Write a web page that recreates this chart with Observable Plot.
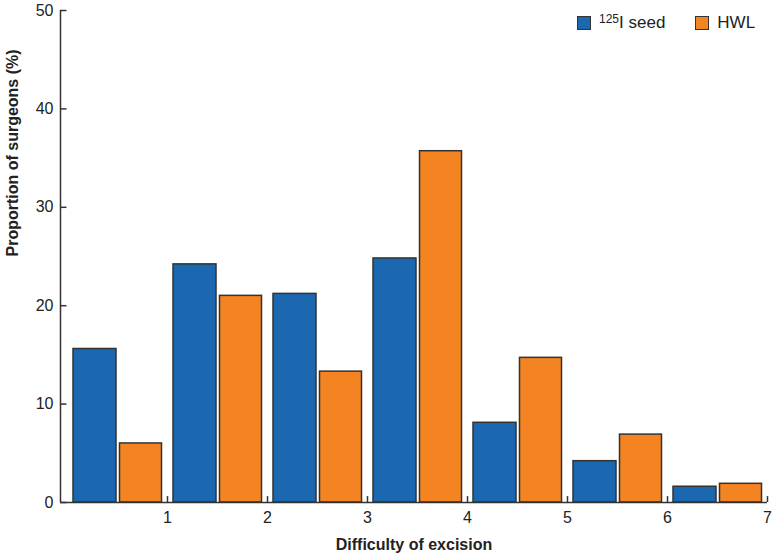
<!DOCTYPE html>
<html>
<head>
<meta charset="utf-8">
<script src="https://cdn.jsdelivr.net/npm/d3@7"></script>
<script src="https://cdn.jsdelivr.net/npm/@observablehq/plot@0.6"></script>
<style>
  html, body { margin: 0; padding: 0; background: #fff; }
  #wrap { position: relative; width: 775px; height: 555px; font-family: "Liberation Sans", Arial, sans-serif; }
  #legend { position: absolute; top: 13px; left: 577px; font-size: 17px; color: #222; display: flex; align-items: center; }
  .sw { display: inline-block; width: 12px; height: 12px; border: 1px solid #333; margin-right: 8px; }
  sup { font-size: 12px; vertical-align: 5px; line-height: 0; }
</style>
</head>
<body>
<div id="wrap">
  <div id="legend">
    <span class="sw" style="background:#1b67b0"></span><span><sup>125</sup>I seed</span>
    <span class="sw" style="background:#f38421; margin-left:30px"></span><span>HWL</span>
  </div>
</div>
<script>
const categories = [1, 2, 3, 4, 5, 6, 7];
const seedValues = [15.6, 24.2, 21.2, 24.8, 8.1, 4.2, 1.6];
const hwlValues  = [6.0, 21.0, 13.3, 35.7, 14.7, 6.9, 1.9];
const xTicks = [1, 2, 3, 4, 5, 6, 7];
const yTicks = [0, 10, 20, 30, 40, 50];
const seriesNames = ["125I seed", "HWL"];
const colors = ["#1b67b0", "#f38421"];

const rows = [];
categories.forEach((c, i) => {
  rows.push({cat: c, series: seriesNames[0], value: seedValues[i], slot: 0});
  rows.push({cat: c, series: seriesNames[1], value: hwlValues[i], slot: 1});
});

const xMin = -0.07, xMax = 7.0;
const chart = Plot.plot({
  width: 775,
  height: 555,
  marginLeft: 60,
  marginRight: 8,
  marginTop: 10,
  marginBottom: 53,
  style: {fontFamily: "Liberation Sans, Arial, sans-serif", fontSize: "16px", color: "#222", background: "#fff"},
  x: {domain: [xMin, xMax], axis: null},
  y: {domain: [0, 50], axis: null},
  color: {domain: seriesNames, range: colors},
  marks: [
    Plot.rectY(rows, {
      x1: d => d.cat - 1 + (d.slot === 0 ? 0.06 : 0.525),
      x2: d => d.cat - 1 + (d.slot === 0 ? 0.49 : 0.945),
      y1: 0,
      y2: "value",
      fill: "series",
      stroke: "#333",
      strokeWidth: 1.5
    }),
    // axis lines
    Plot.ruleX([xMin], {y1: 0, y2: 50, stroke: "#333", strokeWidth: 1.5}),
    Plot.ruleY([0], {x1: xMin, x2: xMax, stroke: "#333", strokeWidth: 1.5}),
    // inward ticks
    Plot.ruleX(xTicks, {x: d => d, y1: 0, y2: 0.6, stroke: "#333", strokeWidth: 1.5}),
    Plot.ruleY(yTicks, {y: d => d, x1: xMin, x2: xMin + 0.065, stroke: "#333", strokeWidth: 1.5}),
    // tick labels
    Plot.axisX({ticks: xTicks, tickSize: 0, tickPadding: 9, tickFormat: d => String(d), fontSize: 16, label: null}),
    Plot.axisY({ticks: yTicks, tickSize: 0, tickPadding: 7, tickFormat: d => String(d), fontSize: 16, label: null}),
    // axis titles
    Plot.text(["Difficulty of excision"], {frameAnchor: "bottom", dy: 47, fontWeight: "bold", fontSize: 16, fill: "#222"}),
    Plot.text(["Proportion of surgeons (%)"], {frameAnchor: "left", dx: -48, rotate: -90, fontWeight: "bold", fontSize: 16, fill: "#222"})
  ]
});
document.getElementById("wrap").prepend(chart);
chart.style.position = "absolute";
chart.style.left = "0";
chart.style.top = "0";
</script>
</body>
</html>
